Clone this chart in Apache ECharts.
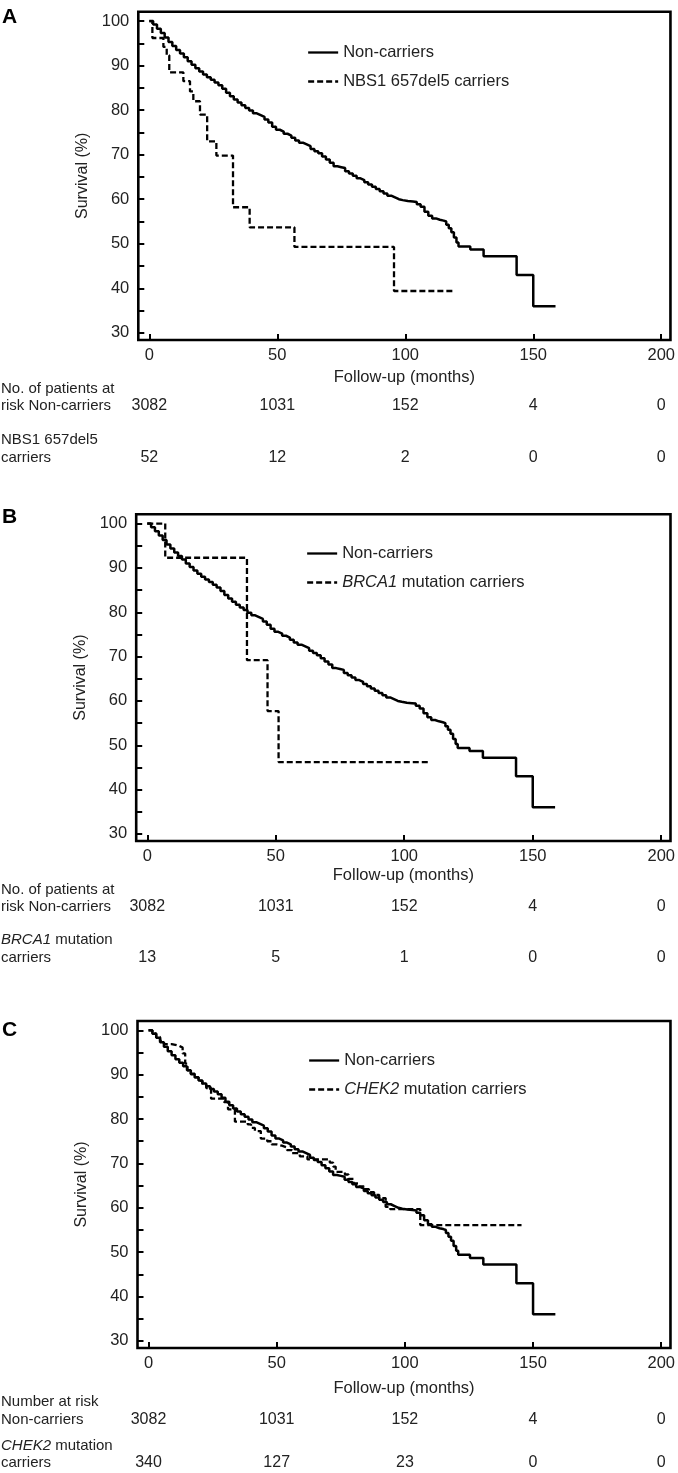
<!DOCTYPE html>
<html>
<head>
<meta charset="utf-8">
<script src="https://cdn.jsdelivr.net/npm/echarts@6/dist/echarts.min.js"></script>
<style>html,body{margin:0;padding:0;background:#fff;}#c{width:678px;height:1473px;}</style>
</head>
<body>
<div id="c"></div>
<script>
// ---------- data ----------
const xTicks = [0, 50, 100, 150, 200];
const yTicks = [30, 35, 40, 45, 50, 55, 60, 65, 70, 75, 80, 85, 90, 95, 100];
const yLabels = [30, 40, 50, 60, 70, 80, 90, 100];

// Non-carriers Kaplan-Meier (same in all panels)
const nonCarrierMonths = [0,1.5,3,4.5,6,7.5,9,10.5,12,13.5,15,16.5,18,19.5,21,22.5,24,25.5,27,28.5,30,31.5,33,34.5,36,37.5,39,40.5,42,43.5,45,46.5,48,49.5,51,52.5,54,55.5,57,58.5,60,61.5,63,64.5,66,67.5,69,70.5,72,73.5,75,76.5,78,79.5,81,82.5,84,85.5,87,88.5,90,91.5,93,94.5,96,97.5,99,101,103,104.5,106,107.5,109,110.5,112,113.5,115,116,117,118,119,120,120.8,125.4,130.6,143.5,150,158.7];
const nonCarrierSurv = [100,99.2,98.3,97.3,96.3,95.3,94.4,93.5,92.7,91.9,91.0,90.2,89.4,88.7,88.0,87.4,86.8,86.2,85.6,84.8,83.9,83.1,82.4,81.7,81.1,80.5,79.9,79.3,78.9,78.5,77.9,77.2,76.3,75.6,75.2,74.7,74.3,73.8,73.2,72.7,72.3,71.9,71.3,70.8,70.3,69.6,68.9,68.2,67.4,67.2,67.0,66.3,65.8,65.3,64.7,64.3,63.8,63.3,62.8,62.3,61.8,61.3,60.8,60.4,60.0,59.8,59.6,59.5,59.4,58.9,58.3,57.2,56.3,55.7,55.4,55.2,55.0,54.3,53.5,52.6,51.4,50.3,49.4,48.7,47.2,43.0,36.0,36.0];

const nbs1Months = [0,1.2,5.5,6.8,7.8,13.3,15.9,17.2,19.8,22.6,26.2,32.7,39.2,56.7,95.6,119.3];
const nbs1Surv   = [100,96.2,94.2,92.3,88.5,86.5,84.2,82.0,79.0,73.0,69.8,58.2,53.7,49.3,39.4,39.4];

const brca1Months = [0,7.0,38.8,46.8,51.1,110.3];
const brca1Surv   = [100,92.3,69.2,57.7,46.2,46.2];

const chek2Months = [0,1.5,3,4.5,6,9,12,13.3,14.3,15.2,16.5,18,19.5,21,22.5,24.4,29.5,31,33.7,38.7,40,41.5,43.8,46.3,48,50,52,54,56,59,62,70.7,72,73,76.6,78,80,82,84,86,88,90,92.5,94.2,106,145.5];
const chek2Surv   = [100,99.3,98.5,97.6,96.9,96.5,96.1,94.8,92.5,91.0,90.1,89.4,88.6,87.8,87.0,84.6,83.8,82.2,79.4,78.8,78.0,77.3,75.6,75.0,74.3,74.0,73.6,73.0,72.3,71.6,70.9,70.2,69.3,68.1,67.5,66.5,65.5,64.8,64.2,63.5,62.9,62.2,60.2,59.7,56.1,56.1];

// numbers at risk
const riskNonCarriers = [3082, 1031, 152, 4, 0];
const riskNBS1  = [52, 12, 2, 0, 0];
const riskBRCA1 = [13, 5, 1, 0, 0];
const riskCHEK2 = [340, 127, 23, 0, 0];

const seriesNames = ['Non-carriers', 'NBS1 657del5 carriers', 'BRCA1 mutation carriers', 'CHEK2 mutation carriers'];

// ---------- helpers ----------
function km(t, s) {
  const pts = [[t[0], s[0]]];
  for (let i = 1; i < t.length; i++) {
    pts.push([t[i], s[i - 1]]);
    pts.push([t[i], s[i]]);
  }
  return pts;
}

const FONT = 'Liberation Sans, Arial, sans-serif';
const TXT = '#222';
const FS = 16.5;

const panels = [
  { letter: 'A', letterY: 17, grid: { left: 138.3, top: 11.7, width: 534, height: 328.3 },
    carrier: 1, cT: nbs1Months, cS: nbs1Surv, risk: riskNBS1,
    legend: { left: 307, top: 44 }, nameGap: 29, rowOff: [58, 110],
    rows: [['No. of patients at', 48.5], ['risk Non-carriers', 66], ['NBS1 657del5', 100], ['carriers', 118]] },
  { letter: 'B', letterY: 517, grid: { left: 136.2, top: 514.3, width: 534.8, height: 326.7 },
    carrier: 2, cT: brca1Months, cS: brca1Surv, risk: riskBRCA1,
    legend: { left: 306, top: 545 }, nameGap: 26, rowOff: [58, 109],
    rows: [['No. of patients at', 49], ['risk Non-carriers', 66], ['{i|BRCA1} mutation', 99], ['carriers', 117]] },
  { letter: 'C', letterY: 1030, grid: { left: 137.5, top: 1021, width: 535.5, height: 327 },
    carrier: 3, cT: chek2Months, cS: chek2Surv, risk: riskCHEK2,
    legend: { left: 308, top: 1052 }, nameGap: 32, rowOff: [64, 107],
    rows: [['Number at risk', 54], ['Non-carriers', 72], ['{i|CHEK2} mutation', 98], ['carriers', 115]] }
];

const option = {
  animation: false,
  backgroundColor: '#fff',
  grid: [], xAxis: [], yAxis: [], series: [], legend: [], graphic: []
};

const richItalic = {
  i: { fontStyle: 'italic', fontSize: FS, fontFamily: FONT, color: TXT }
};

panels.forEach((p, k) => {
  option.grid.push(Object.assign({ show: true, borderColor: '#000', borderWidth: 2.6, backgroundColor: 'transparent' }, p.grid));
  const xBase = k * 3;
  const common = { type: 'value', gridIndex: k, min: -4.3, max: 203.6, position: 'bottom', splitLine: { show: false } };
  option.xAxis.push(Object.assign({}, common, {
    axisLine: { show: false, onZero: false },
    axisTick: { show: true, inside: true, length: 6, lineStyle: { color: '#000', width: 2 }, customValues: xTicks },
    axisLabel: { customValues: xTicks, margin: 7, fontSize: FS, color: TXT, fontFamily: FONT },
    name: 'Follow-up (months)', nameLocation: 'middle', nameGap: p.nameGap,
    nameTextStyle: { fontSize: FS, color: TXT, fontFamily: FONT }
  }));
  [riskNonCarriers, p.risk].forEach((arr, r) => {
    option.xAxis.push(Object.assign({}, common, {
      offset: p.rowOff[r],
      axisLine: { show: false, onZero: false }, axisTick: { show: false },
      axisLabel: { customValues: xTicks, margin: 0, fontSize: 16, color: TXT, fontFamily: FONT,
        formatter: v => String(arr[xTicks.indexOf(v)]) }
    }));
  });
  option.yAxis.push({
    type: 'value', gridIndex: k, min: 28.4, max: 102.1, position: 'left', splitLine: { show: false },
    axisLine: { show: false, onZero: false },
    axisTick: { show: true, inside: true, length: 6, lineStyle: { color: '#000', width: 2 }, customValues: yTicks },
    axisLabel: { customValues: yLabels, margin: 9, fontSize: FS, color: TXT, fontFamily: FONT },
    name: 'Survival (%)', nameLocation: 'middle', nameRotate: 90, nameGap: 45,
    nameTextStyle: { fontSize: 16, color: TXT, fontFamily: FONT }
  });
  option.series.push({
    name: seriesNames[0], type: 'line', xAxisIndex: xBase, yAxisIndex: k,
    data: km(nonCarrierMonths, nonCarrierSurv), symbol: 'none', showSymbol: false,
    lineStyle: { color: '#000', width: 2.5, type: 'solid' }, itemStyle: { color: '#000' }, z: 3
  });
  option.series.push({
    name: seriesNames[p.carrier], type: 'line', xAxisIndex: xBase, yAxisIndex: k,
    data: km(p.cT, p.cS), symbol: 'none', showSymbol: false,
    lineStyle: { color: '#000', width: 2.3, type: [6, 3] }, itemStyle: { color: '#000' }, z: 2
  });
  option.legend.push({
    left: p.legend.left, top: p.legend.top, orient: 'vertical', padding: 0,
    itemWidth: 30, itemHeight: 14, itemGap: 12, selectedMode: false,
    itemStyle: { color: 'rgba(0,0,0,0)', borderWidth: 0, opacity: 0 },
    lineStyle: { width: 2.3 },
    data: [seriesNames[0], seriesNames[p.carrier]],
    formatter: name => name.replace(/^(BRCA1|CHEK2)/, '{i|$1}'),
    textStyle: { fontSize: FS, color: TXT, fontFamily: FONT, rich: richItalic }
  });
  // panel letter
  option.graphic.push({
    type: 'text', x: 2, y: p.letterY,
    style: { text: p.letter, font: 'bold 21px ' + FONT, fill: '#000', verticalAlign: 'middle', align: 'left' }
  });
  // risk table row labels
  const axisY = p.grid.top + p.grid.height;
  p.rows.forEach(([txt, dy]) => {
    option.graphic.push({
      type: 'text', x: 1, y: axisY + dy,
      style: { text: txt, font: '15px ' + FONT, fill: TXT, verticalAlign: 'middle', align: 'left',
        rich: { i: { fontStyle: 'italic', fontSize: 15, fontFamily: FONT, fill: TXT } } }
    });
  });
});

const chart = echarts.init(document.getElementById('c'), null, { renderer: 'canvas' });
chart.setOption(option);
</script>
</body>
</html>
